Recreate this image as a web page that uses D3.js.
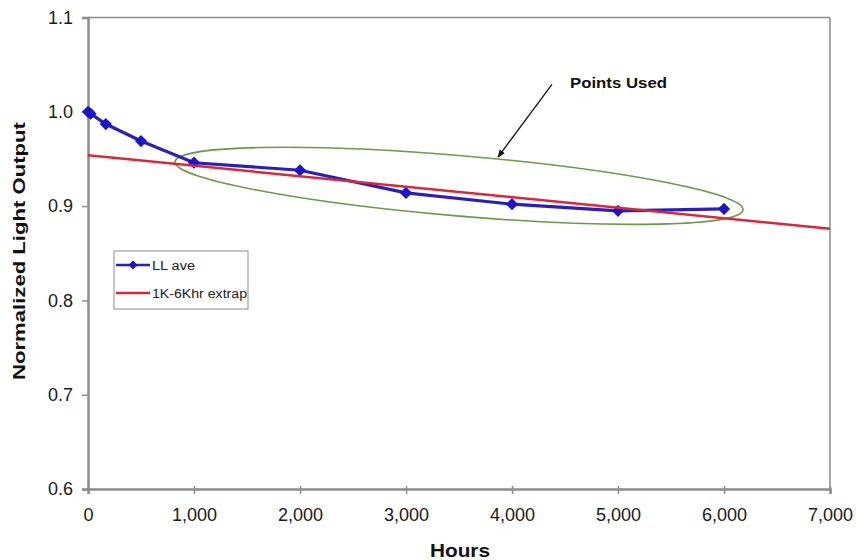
<!DOCTYPE html>
<html>
<head>
<meta charset="utf-8">
<script src="https://cdn.jsdelivr.net/npm/d3@7"></script>
<style>
  body { margin: 0; background: #fff; }
  svg { font-family: "Liberation Sans", Arial, sans-serif; }
</style>
</head>
<body>
<div id="chart"></div>
<script>
// LL ave measurements
const hours = [0, 24, 168, 500, 1000, 2000, 3000, 4000, 5000, 6000];
const llAve = [1.0, 0.998, 0.987, 0.969, 0.946, 0.938, 0.914, 0.902, 0.895, 0.897];

// 1K-6Khr extrapolation endpoints
const extrapHours = [0, 7000];
const extrapValues = [0.954, 0.876];

const xTicks = [0, 1000, 2000, 3000, 4000, 5000, 6000, 7000];
const yTicks = [0.6, 0.7, 0.8, 0.9, 1.0, 1.1];

// annotation: ellipse tips (hours, value) and arrow
const ellipseTips = [[821, 0.947], [6179, 0.896]];
const ellipseMinor = 0.032;
const arrowFrom = [4377, 1.029];
const arrowTo = [3868, 0.952];

const width = 856, height = 560;
const margin = {top: 17.5, right: 26, bottom: 71, left: 88};

const svg = d3.select("#chart").append("svg")
  .attr("width", width).attr("height", height);

const x = d3.scaleLinear().domain([0, 7000]).range([margin.left, width - margin.right]);
const y = d3.scaleLinear().domain([0.6, 1.1]).range([height - margin.bottom, margin.top]);

const axisColor = "#8c8c8c";

// frame: top and right
svg.append("line")
  .attr("x1", x(0)).attr("x2", x(7000)).attr("y1", y(1.1)).attr("y2", y(1.1))
  .attr("stroke", axisColor).attr("stroke-width", 1.5);
svg.append("line")
  .attr("x1", x(7000)).attr("x2", x(7000)).attr("y1", y(1.1)).attr("y2", y(0.6))
  .attr("stroke", axisColor).attr("stroke-width", 1.5);

// x axis
const gx = svg.append("g")
  .attr("transform", "translate(0," + y(0.6) + ")")
  .call(d3.axisBottom(x).tickValues(xTicks).tickSize(5).tickPadding(14)
    .tickFormat(d3.format(",")));
gx.select(".domain").attr("stroke", axisColor).attr("stroke-width", 2.5);
gx.selectAll(".tick line").attr("stroke", axisColor).attr("stroke-width", 1.5).attr("y1", -3);
gx.selectAll(".tick text").attr("font-size", 18).attr("fill", "#1a1a1a")
  .attr("font-family", "'Liberation Sans', Arial, sans-serif");

// y axis
const gy = svg.append("g")
  .attr("transform", "translate(" + x(0) + ",0)")
  .call(d3.axisLeft(y).tickValues(yTicks).tickSize(6).tickPadding(9)
    .tickFormat(d3.format(".1f")));
gy.select(".domain").attr("stroke", axisColor).attr("stroke-width", 2.5);
gy.selectAll(".tick line").attr("stroke", axisColor).attr("stroke-width", 1.5);
gy.selectAll(".tick text").attr("font-size", 18).attr("fill", "#1a1a1a")
  .attr("font-family", "'Liberation Sans', Arial, sans-serif");

// axis titles
svg.append("text")
  .attr("x", 460).attr("y", 557)
  .attr("text-anchor", "middle")
  .attr("font-size", 19).attr("font-weight", "bold").attr("fill", "#111")
  .attr("textLength", 60).attr("lengthAdjust", "spacingAndGlyphs")
  .text("Hours");

svg.append("text")
  .attr("transform", "translate(25,251) rotate(-90)")
  .attr("text-anchor", "middle")
  .attr("font-size", 17).attr("font-weight", "bold").attr("fill", "#111")
  .attr("textLength", 258).attr("lengthAdjust", "spacingAndGlyphs")
  .text("Normalized Light Output");

// ellipse around the points used
const p1 = [x(ellipseTips[0][0]), y(ellipseTips[0][1])];
const p2 = [x(ellipseTips[1][0]), y(ellipseTips[1][1])];
const cx = (p1[0] + p2[0]) / 2, cy = (p1[1] + p2[1]) / 2;
const rx = Math.hypot(p2[0] - p1[0], p2[1] - p1[1]) / 2;
const ry = y(0.6) - y(0.6 + ellipseMinor);
const angle = Math.atan2(p2[1] - p1[1], p2[0] - p1[0]) * 180 / Math.PI;
svg.append("ellipse")
  .attr("cx", cx).attr("cy", cy).attr("rx", rx).attr("ry", ry)
  .attr("transform", "rotate(" + angle + "," + cx + "," + cy + ")")
  .attr("fill", "none").attr("stroke", "#6b9a4c").attr("stroke-width", 1.6);

// LL ave line
const llData = hours.map((h, i) => ({h: h, v: llAve[i]}));
const line = d3.line().x(d => x(d.h)).y(d => y(d.v));
svg.append("path")
  .datum(llData)
  .attr("d", line)
  .attr("fill", "none").attr("stroke", "#2c20b4").attr("stroke-width", 3.2);

const diamond = d3.symbol().type(d3.symbolDiamond2).size(95);
svg.selectAll(".marker")
  .data(llData)
  .enter().append("path")
  .attr("class", "marker")
  .attr("transform", d => "translate(" + x(d.h) + "," + y(d.v) + ")")
  .attr("d", diamond)
  .attr("fill", "#1a14d0");

// extrapolation line
const exData = extrapHours.map((h, i) => ({h: h, v: extrapValues[i]}));
svg.append("path")
  .datum(exData)
  .attr("d", line)
  .attr("fill", "none").attr("stroke", "#d42a3c").attr("stroke-width", 2.5);

// annotation arrow + label
svg.append("defs").append("marker")
  .attr("id", "arrowhead")
  .attr("viewBox", "0 0 10 10")
  .attr("refX", 9).attr("refY", 5)
  .attr("markerWidth", 6).attr("markerHeight", 6)
  .attr("orient", "auto")
  .append("path").attr("d", "M0,1 L10,5 L0,9 Z").attr("fill", "#111");

svg.append("line")
  .attr("x1", x(arrowFrom[0])).attr("y1", y(arrowFrom[1]))
  .attr("x2", x(arrowTo[0])).attr("y2", y(arrowTo[1]))
  .attr("stroke", "#111").attr("stroke-width", 1.3)
  .attr("marker-end", "url(#arrowhead)");

svg.append("text")
  .attr("x", 570).attr("y", 88)
  .attr("font-size", 15).attr("font-weight", "bold").attr("fill", "#111")
  .attr("textLength", 97).attr("lengthAdjust", "spacingAndGlyphs")
  .text("Points Used");

// legend
const legend = svg.append("g");
legend.append("rect")
  .attr("x", 114).attr("y", 251).attr("width", 134).attr("height", 58)
  .attr("fill", "#fff").attr("stroke", "#a0a0a0").attr("stroke-width", 1.2);

legend.append("line")
  .attr("x1", 116).attr("x2", 150).attr("y1", 265).attr("y2", 265)
  .attr("stroke", "#2c20b4").attr("stroke-width", 2.5);
legend.append("path")
  .attr("transform", "translate(133,265)")
  .attr("d", d3.symbol().type(d3.symbolDiamond2).size(50))
  .attr("fill", "#1a14d0");
legend.append("text")
  .attr("x", 152).attr("y", 269.5)
  .attr("font-size", 12).attr("fill", "#222")
  .attr("textLength", 43).attr("lengthAdjust", "spacingAndGlyphs")
  .text("LL ave");

legend.append("line")
  .attr("x1", 116).attr("x2", 150).attr("y1", 293).attr("y2", 293)
  .attr("stroke", "#d42a3c").attr("stroke-width", 2.5);
legend.append("text")
  .attr("x", 152).attr("y", 297.5)
  .attr("font-size", 12).attr("fill", "#222")
  .attr("textLength", 95).attr("lengthAdjust", "spacingAndGlyphs")
  .text("1K-6Khr extrap");
</script>
</body>
</html>
